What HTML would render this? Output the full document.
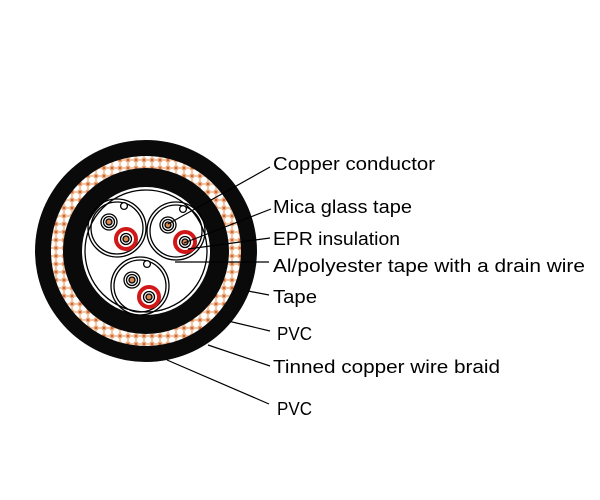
<!DOCTYPE html>
<html><head><style>
html,body{margin:0;padding:0;background:#fff;width:600px;height:500px;overflow:hidden}
svg text{font-family:"Liberation Sans",sans-serif;font-size:18px;fill:#000}
</style></head><body>
<svg width="600" height="500" viewBox="0 0 600 500" xmlns="http://www.w3.org/2000/svg">
<defs>
<pattern id="braid" width="8" height="8" patternUnits="userSpaceOnUse">
<rect width="8" height="8" fill="#f2c4a0"/>
<circle cx="4" cy="4" r="3.1" fill="#fff"/>
<path d="M0 0L1.4 1.4M8 0L6.6 1.4M0 8L1.4 6.6M8 8L6.6 6.6" stroke="#d0602a" stroke-width="1.1"/>
</pattern>
<g id="u" fill="none" stroke="#000" stroke-width="1.3">
<circle cx="0" cy="0" r="29"/>
<circle cx="0" cy="0" r="26"/>
<circle cx="7" cy="-22" r="3.4" fill="#fff"/>
<circle cx="-8" cy="-6" r="8"/>
<circle cx="-8" cy="-6" r="5.5"/>
<circle cx="-8" cy="-6" r="3" fill="#d88a50"/>
<circle cx="9" cy="11" r="10" stroke="#d01818" stroke-width="4"/>
<circle cx="9" cy="11" r="5.5" fill="#fff"/>
<circle cx="9" cy="11" r="3" fill="#d88a50"/>
</g>
</defs>
<circle cx="146" cy="251" r="111" fill="#0a0a0a"/>
<circle cx="146" cy="251" r="95" fill="url(#braid)"/>
<circle cx="146" cy="251" r="83" fill="#0a0a0a"/>
<circle cx="146" cy="251" r="64" fill="#fff"/>
<circle cx="146" cy="251" r="61" fill="none" stroke="#000" stroke-width="1.3"/>
<use href="#u" transform="translate(117,228)"/>
<use href="#u" transform="translate(176,231)"/>
<use href="#u" transform="translate(140,286)"/>
<g stroke="#000" stroke-width="1.2" fill="none">
<line x1="270" y1="167" x2="168" y2="224"/>
<line x1="271" y1="209" x2="184" y2="243"/>
<line x1="270" y1="238" x2="188" y2="249"/>
<line x1="269" y1="262" x2="175" y2="262"/>
<line x1="269" y1="295" x2="248" y2="291"/>
<line x1="270" y1="331" x2="228" y2="321"/>
<line x1="270" y1="366" x2="208" y2="345"/>
<line x1="269" y1="404" x2="167" y2="360"/>
</g>
<text x="273" y="170" textLength="162" lengthAdjust="spacingAndGlyphs">Copper conductor</text>
<text x="273" y="213" textLength="139" lengthAdjust="spacingAndGlyphs">Mica glass tape</text>
<text x="273" y="245" textLength="127" lengthAdjust="spacingAndGlyphs">EPR insulation</text>
<text x="273" y="272" textLength="312" lengthAdjust="spacingAndGlyphs">Al/polyester tape with a drain wire</text>
<text x="273" y="303" textLength="44" lengthAdjust="spacingAndGlyphs">Tape</text>
<text x="277" y="340" textLength="35" lengthAdjust="spacingAndGlyphs">PVC</text>
<text x="273" y="373" textLength="227" lengthAdjust="spacingAndGlyphs">Tinned copper wire braid</text>
<text x="277" y="415" textLength="35" lengthAdjust="spacingAndGlyphs">PVC</text>
</svg>
</body></html>
